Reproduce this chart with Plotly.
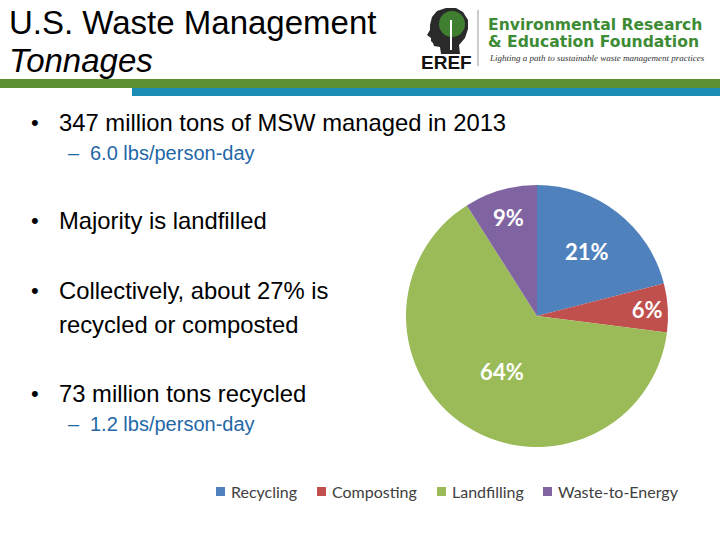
import plotly.graph_objects as go

W, H = 720, 540

# ---- data ----
categories = ["Recycling", "Composting", "Landfilling", "Waste-to-Energy"]
shares = [21, 6, 64, 9]
colors = ["#4f81bd", "#c0504d", "#9bbb59", "#8064a2"]

title_lines = ["U.S. Waste Management", "Tonnages"]
bullets = [
    ("main", ["347 million tons of MSW managed in 2013"]),
    ("sub", ["6.0 lbs/person-day"]),
    ("main", ["Majority is landfilled"]),
    ("main", ["Collectively, about 27% is", "recycled or composted"]),
    ("main", ["73 million tons recycled"]),
    ("sub", ["1.2 lbs/person-day"]),
]
bullet_y = [123, 153, 221, 290, 393, 424]
legend_x = [216, 317, 437, 543]


def px(x):
    return x / W


def py(y):
    return 1 - y / H


cx, cy, r = 537, 316, 131

fig = go.Figure()
fig.add_trace(go.Pie(
    labels=categories,
    values=shares,
    sort=False,
    direction="clockwise",
    rotation=0,
    marker=dict(colors=colors, line=dict(width=0)),
    textinfo="percent",
    textposition="inside",
    insidetextorientation="horizontal",
    textfont=dict(family="Lato", size=22, color="white", weight="bold"),
    domain=dict(x=[px(cx - r), px(cx + r)], y=[py(cy + r), py(cy - r)]),
    showlegend=False,
    hoverinfo="label+percent",
))

shapes = []
ann = []

# header bars
shapes.append(dict(type="rect", xref="paper", yref="paper", x0=0, x1=1,
                   y0=py(88), y1=py(79), fillcolor="#5c9030", line=dict(width=0)))
shapes.append(dict(type="rect", xref="paper", yref="paper", x0=px(132), x1=1,
                   y0=py(96), y1=py(88), fillcolor="#1a8db4", line=dict(width=0)))

# title
ann.append(dict(text=title_lines[0], x=px(7), y=py(22), xanchor="left", yanchor="middle",
                font=dict(family="Liberation Sans", size=33, color="black")))
ann.append(dict(text="<i>" + title_lines[1] + "</i>", x=px(7), y=py(60), xanchor="left",
                yanchor="middle", font=dict(family="Liberation Sans", size=33, color="black")))

# bullets
for (kind, lines), yy in zip(bullets, bullet_y):
    if kind == "main":
        ann.append(dict(text="•", x=px(29), y=py(yy), xanchor="left", yanchor="middle",
                        font=dict(family="Liberation Sans", size=22, color="black")))
        for i, txt in enumerate(lines):
            ann.append(dict(text=txt, x=px(57), y=py(yy + 34 * i), xanchor="left",
                            yanchor="middle",
                            font=dict(family="Liberation Sans", size=23.8, color="black")))
    else:
        ann.append(dict(text="–", x=px(66), y=py(yy), xanchor="left", yanchor="middle",
                        font=dict(family="Liberation Sans", size=20, color="#1f68a8")))
        ann.append(dict(text=lines[0], x=px(88), y=py(yy), xanchor="left",
                        yanchor="middle",
                        font=dict(family="Liberation Sans", size=20, color="#1f68a8")))

# logo
def path(points):
    return "M " + " L ".join(f"{px(a):.5f},{py(b):.5f}" for a, b in points) + " Z"

head = [(441, 54), (440, 47), (434, 46), (433, 43), (431, 41), (431, 38), (427, 35),
        (430, 30), (430, 25), (432, 17), (437, 11), (446, 8), (456, 8), (463, 12),
        (468, 20), (468, 29), (465, 38), (459, 45), (460, 54)]
shapes.append(dict(type="path", xref="paper", yref="paper", path=path(head),
                   fillcolor="#2a2a2a", line=dict(width=0)))
shapes.append(dict(type="circle", xref="paper", yref="paper",
                   x0=px(439), x1=px(465), y0=py(37), y1=py(11),
                   fillcolor="#3f7f2f", line=dict(width=0)))
shapes.append(dict(type="line", xref="paper", yref="paper",
                   x0=px(451), x1=px(451), y0=py(50), y1=py(20),
                   line=dict(color="white", width=2)))
shapes.append(dict(type="line", xref="paper", yref="paper",
                   x0=px(478), x1=px(478), y0=py(66), y1=py(10),
                   line=dict(color="#9a9a9a", width=1)))
ann.append(dict(text="<b>EREF</b>", x=px(446), y=py(62), xanchor="center", yanchor="middle",
                font=dict(family="Liberation Sans", size=19, color="#111111")))
ann.append(dict(text="<b>Environmental Research</b>", x=px(486), y=py(25), xanchor="left",
                yanchor="middle", font=dict(family="DejaVu Sans", size=15.6, color="#3e8b36")))
ann.append(dict(text="<b>&amp; Education Foundation</b>", x=px(486), y=py(42), xanchor="left",
                yanchor="middle", font=dict(family="DejaVu Sans", size=15.6, color="#3e8b36")))
ann.append(dict(text="<i>Lighting a path to sustainable waste management practices</i>",
                x=px(487), y=py(58), xanchor="left", yanchor="middle",
                font=dict(family="Liberation Serif", size=9, color="#333333")))

# legend (manual)
for name, col, lx in zip(categories, colors, legend_x):
    shapes.append(dict(type="rect", xref="paper", yref="paper",
                       x0=px(lx), x1=px(lx + 9), y0=py(496), y1=py(487),
                       fillcolor=col, line=dict(width=0)))
    ann.append(dict(text=name, x=px(lx + 13), y=py(491), xanchor="left", yanchor="middle",
                    font=dict(family="Lato", size=16, color="#404040")))

for a in ann:
    a.update(xref="paper", yref="paper", showarrow=False)

fig.update_layout(
    width=W, height=H,
    margin=dict(l=0, r=0, t=0, b=0),
    paper_bgcolor="white", plot_bgcolor="white",
    shapes=shapes, annotations=ann,
    showlegend=False,
)
fig.write_html("out.html", config={"displayModeBar": False},
               post_script="document.body.style.margin='0';")
